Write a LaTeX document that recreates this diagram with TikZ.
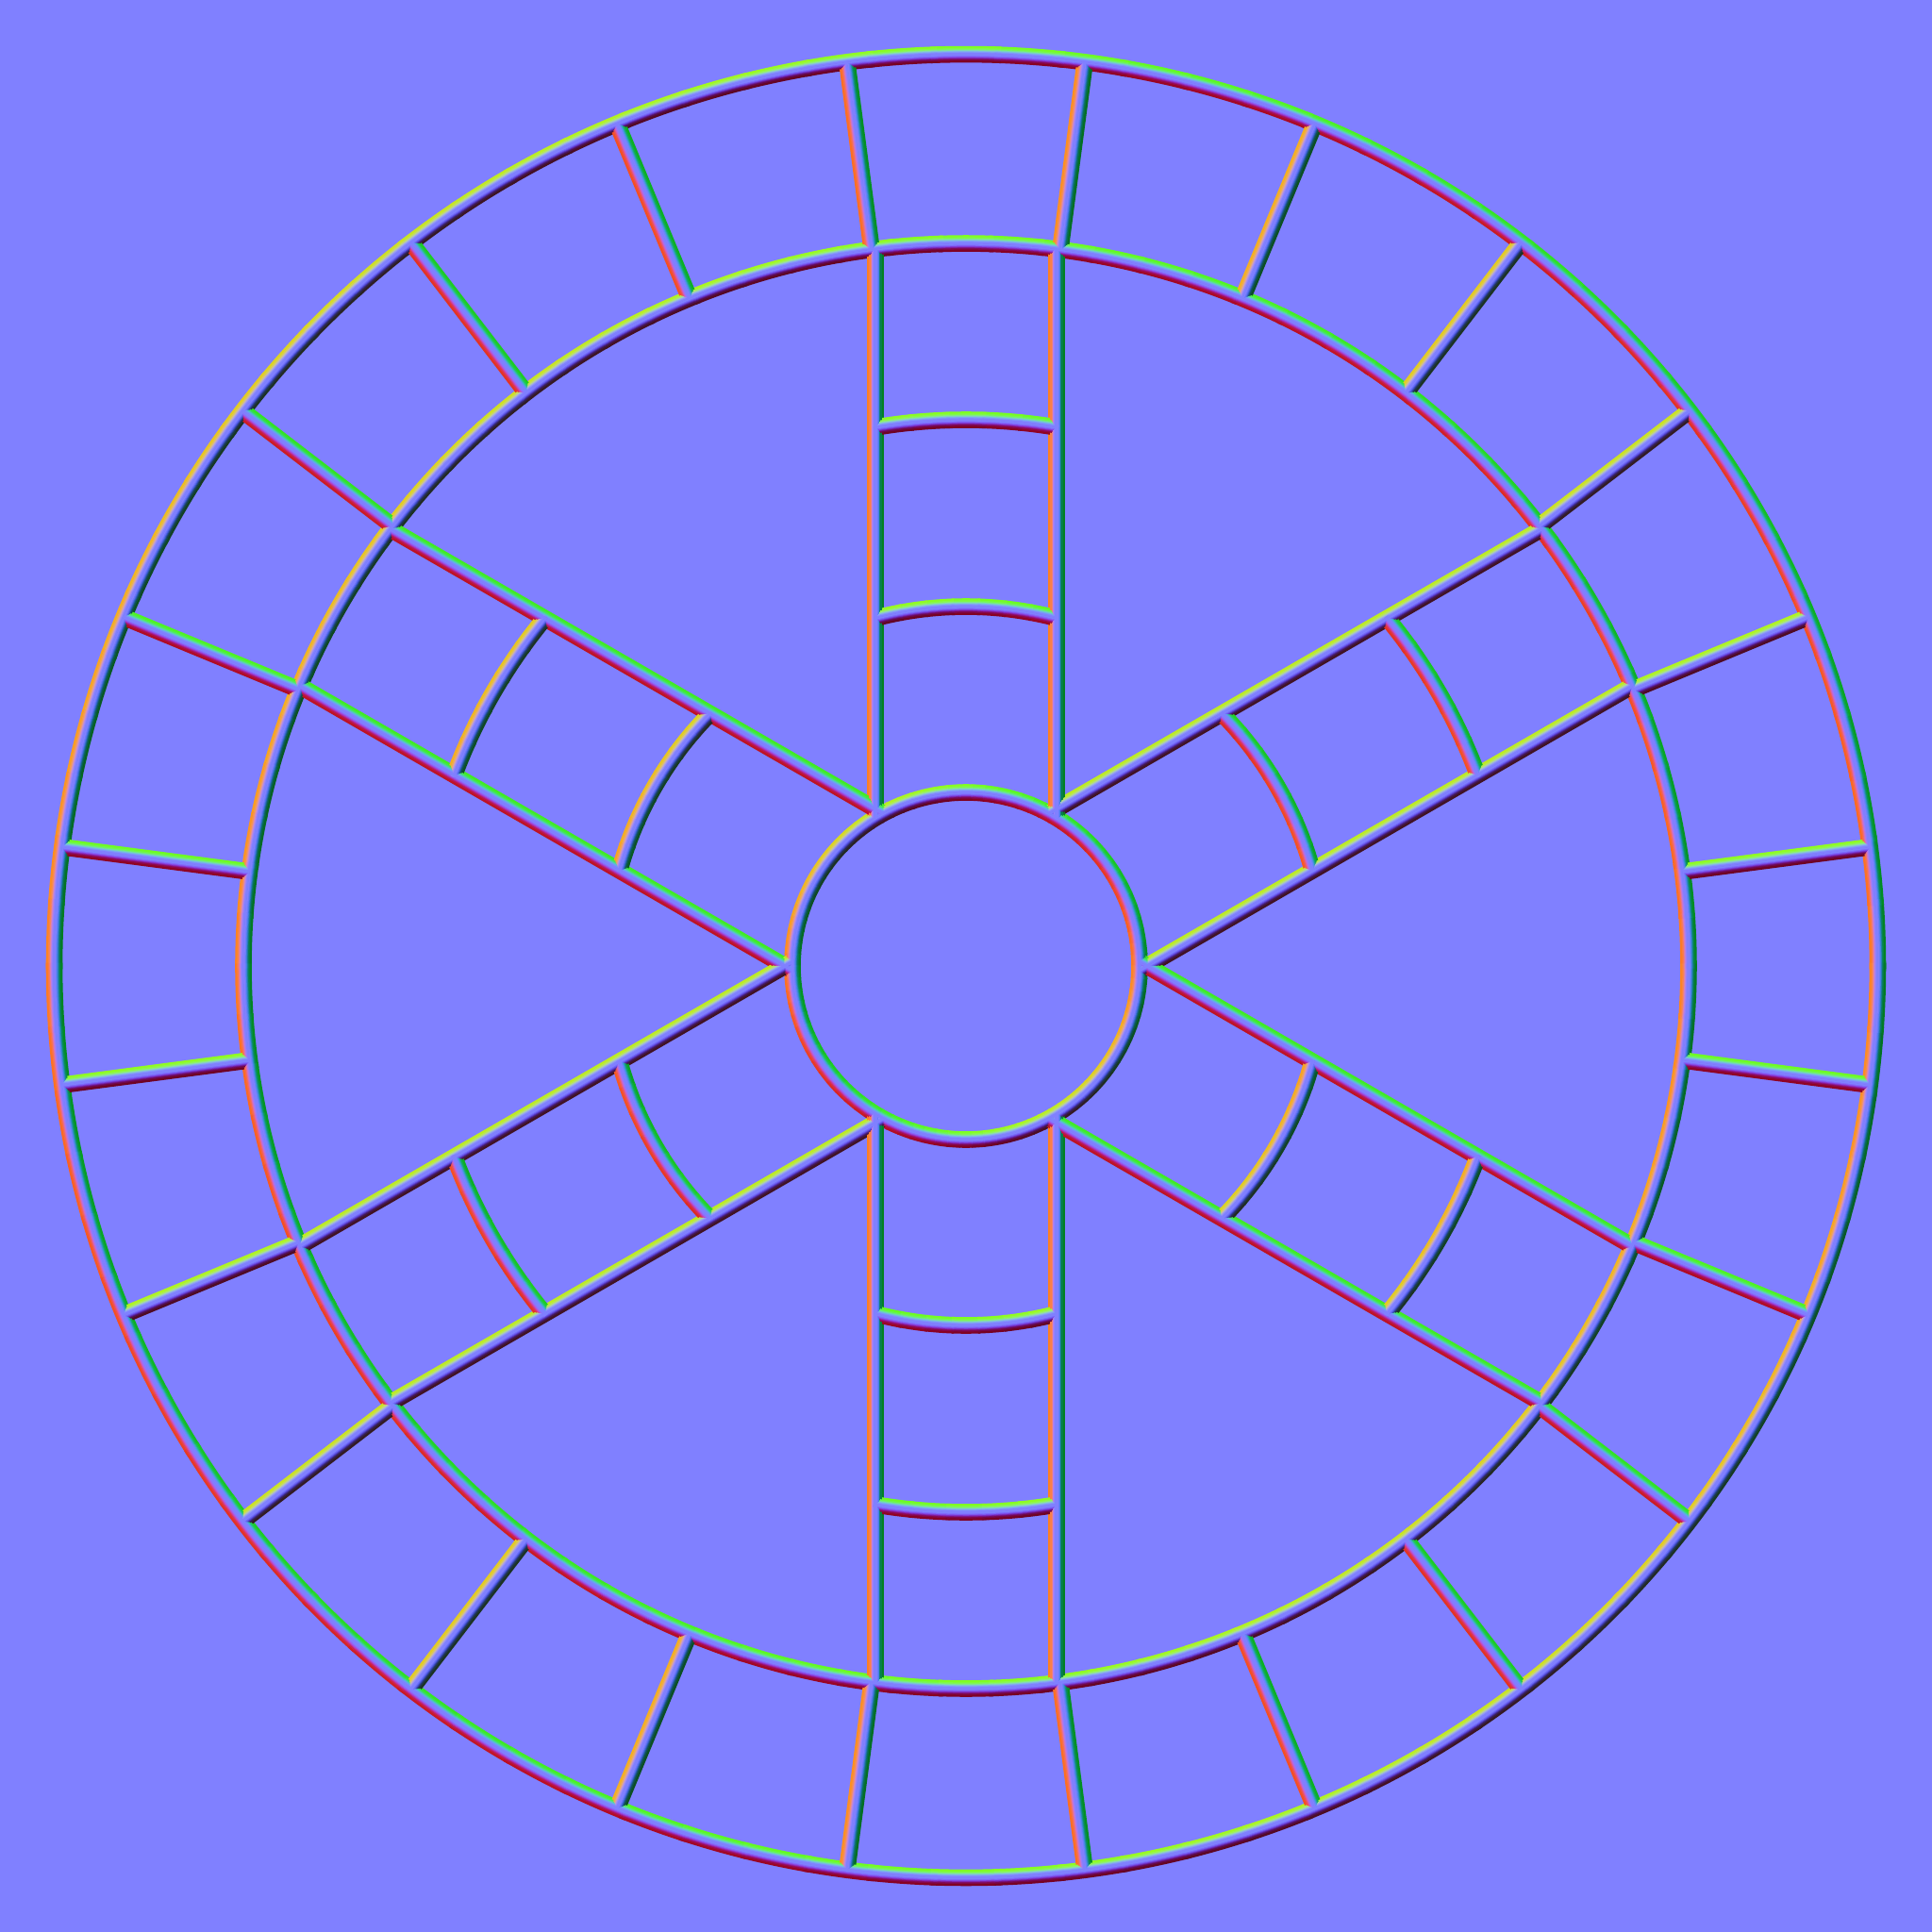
\documentclass[tikz,border=0pt]{standalone}

\definecolor{bgnormal}{RGB}{128,128,255}
\definecolor{nm}{RGB}{128,128,255}

% colour of a tube face whose normal points at angle #1, tilt \tu
\newcommand\nmcolor[1]{%
  \pgfmathtruncatemacro\nmR{128-127*\tu*cos(#1)}%
  \pgfmathtruncatemacro\nmG{128+127*\tu*sin(#1)}%
  \pgfmathtruncatemacro\nmB{255*sqrt(1-\tu*\tu)}%
  \definecolor{nm}{RGB}{\nmR,\nmG,\nmB}}

% one layer of a curved tube: radius, start angle, end angle
\newcommand\tubearc[3]{%
  \pgfmathsetmacro\tfrom{#2}\pgfmathsetmacro\tto{#3}%
  \pgfmathtruncatemacro\np{max(1,round((\tto-\tfrom)/4))}%
  \pgfmathsetmacro\da{(\tto-\tfrom)/\np}%
  \foreach \j in {1,...,\np}{%
    \pgfmathsetmacro\ta{\tfrom+(\j-1)*\da}%
    \foreach \sd in {1,-1}{%
      \nmcolor{\ta+\da/2+90-90*\sd}%
      \pgfmathsetmacro\rr{#1+\sd*\lw/2}%
      \draw[tube] (\ta-0.2:\rr) arc[start angle=\ta-0.2, delta angle=\da+0.4, radius=\rr];
    }}}

% one layer of a straight tube: direction, side offset, from, to
\newcommand\tubeline[4]{%
  \foreach \sd in {1,-1}{%
    \nmcolor{#1+90*\sd}%
    \pgfmathsetmacro\off{#2+\sd*\lw/2}%
    \draw[tube, rotate=#1] (#3,\off) -- (#4,\off);}}

\tikzset{tube/.style={draw=nm, line width=\lw cm, line cap=butt}}

\begin{document}
\begin{tikzpicture}
  \fill[bgnormal] (-10.24,-10.24) rectangle (10.24,10.24);

  % layers from the foot of the tubes up to their ridge
  \foreach \tw/\tu in {1/0.99,0.75/0.96,0.6/0.88,0.5/0.7,0.4/0.45,0.3/0.2,0.18/0}{
    \pgfmathsetmacro\lw{\tw*0.088}
    % rings
    \foreach \rad in {1.84,7.66,9.665} {\tubearc{\rad}{0}{360}}
    % spokes with their rungs
    \foreach \al in {30,90,...,330}{
      \tubeline{\al}{0.96}{1.57}{7.5996}
      \tubeline{\al}{-0.96}{1.57}{7.5996}
      \foreach \rc in {3.81,5.79}{
        \pgfmathsetmacro\ha{asin(0.96/\rc)}
        \tubearc{\rc}{\al-\ha}{\al+\ha}
      }
    }
    % rim segments
    \foreach \be in {7.5,22.5,...,352.5}{\tubeline{\be}{0}{7.66}{9.665}}
  }
\end{tikzpicture}
\end{document}
